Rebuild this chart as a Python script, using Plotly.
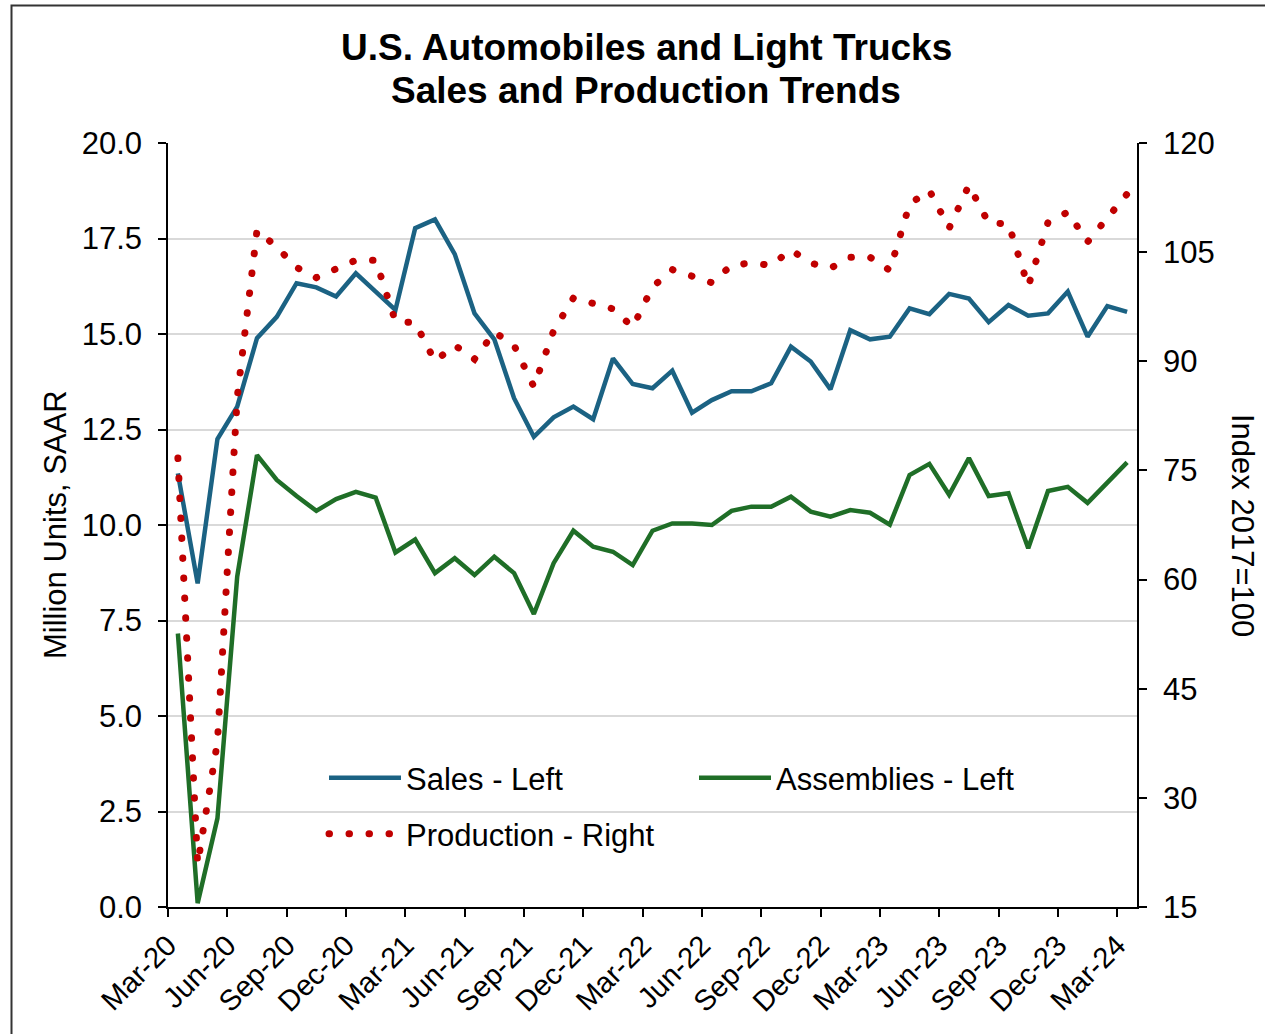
import plotly.graph_objects as go
import pandas as pd

# ---- data ----
months = list(pd.date_range("2020-03-01", periods=49, freq="MS").strftime("%b-%y"))

sales = [11.35, 8.47, 12.25, 13.10, 14.89, 15.45, 16.33, 16.22, 15.98, 16.59,
         16.11, 15.63, 17.77, 18.00, 17.09, 15.54, 14.86, 13.32, 12.31, 12.82, 13.10, 12.77,
         14.36, 13.69, 13.58, 14.04, 12.94, 13.27, 13.50, 13.50, 13.71, 14.67, 14.28, 13.55,
         15.10, 14.86, 14.93, 15.67, 15.52, 16.05, 15.93, 15.31, 15.76, 15.48, 15.54, 16.11,
         14.93, 15.73, 15.58]

assemblies = [7.16, 0.10, 2.32, 8.65, 11.83, 11.18, 10.76, 10.37, 10.68, 10.87,
              10.72, 9.28, 9.62, 8.74, 9.13, 8.69, 9.17, 8.74, 7.67, 9.00, 9.85, 9.43,
              9.30, 8.95, 9.85, 10.04, 10.04, 10.00, 10.37, 10.48, 10.48, 10.74, 10.35, 10.22,
              10.39, 10.32, 10.01, 11.31, 11.60, 10.79, 11.75, 10.76, 10.83, 9.39, 10.89, 11.00,
              10.58, 11.09, 11.64]

production = [76.7, 20.9, 37.7, 85.0, 108.0, 105.7, 102.9, 101.5, 102.7, 103.9,
              103.9, 95.5, 95.3, 90.0, 92.2, 90.3, 94.0, 92.2, 86.5, 94.2, 98.7, 97.9,
              97.2, 94.7, 100.2, 102.6, 101.8, 100.8, 103.2, 103.5, 103.2, 105.3, 103.5, 102.8,
              104.3, 104.3, 102.5, 111.6, 113.5, 108.3, 114.2, 109.0, 108.9, 100.3, 109.1, 110.5,
              106.4, 109.8, 113.0]

tick_labels = months[::3]

# ---- styling ----
FONT = "Liberation Sans, Arial, sans-serif"
BLUE = "#1b6283"
GREEN = "#1f6e27"
RED = "#c00000"

idx = list(range(len(months)))
tickvals = [i - 0.5 for i in range(0, len(months), 3)]

fig = go.Figure()
fig.add_trace(go.Scatter(x=idx, y=sales, name="Sales - Left", mode="lines",
                         line=dict(color=BLUE, width=4.5), legend="legend"))
fig.add_trace(go.Scatter(x=idx, y=assemblies, name="Assemblies - Left", mode="lines",
                         line=dict(color=GREEN, width=4.5), legend="legend2"))
fig.add_trace(go.Scatter(x=idx, y=production, name="Production - Right", mode="lines",
                         yaxis="y2", line=dict(color=RED, width=7, dash="0.5px,19.5px"),
                         legend="legend3"))

# body margin is removed in the page (see post script) -> figure at (0, 0)
W, H = 1265, 1034
# target plot area on screen: x 168..1137, y 143..907
PL, PR, PT, PB = 168, W - 1137, 143, H - 907
PW = W - PL - PR
PH = H - PT - PB

def px_x(x):  # screen px -> paper
    return (x - PL) / PW

def px_y(y):
    return (H - PB - y) / PH

axis_common = dict(showline=True, linecolor="black", linewidth=1.5,
                   ticks="outside", ticklen=8, tickwidth=1.5, tickcolor="black",
                   zeroline=False)

leg_common = dict(xanchor="left", yanchor="middle", bgcolor="rgba(0,0,0,0)",
                  font=dict(family=FONT, size=31, color="black"), itemwidth=72,
                  borderwidth=0)

fig.update_layout(
    width=W, height=H,
    margin=dict(l=PL, r=PR, t=PT, b=PB),
    paper_bgcolor="white", plot_bgcolor="white",
    font=dict(family=FONT, color="black"),
    showlegend=True,
    xaxis=dict(range=[-0.5, len(months) - 0.5], tickmode="array", tickvals=tickvals,
               ticktext=tick_labels, tickangle=-45, showgrid=False,
               tickfont=dict(family=FONT, size=29, color="black"), **axis_common),
    yaxis=dict(range=[0, 20], tick0=0, dtick=2.5, tickformat=".1f",
               showgrid=True, gridcolor="#d9d9d9", gridwidth=1.5,
               tickfont=dict(family=FONT, size=31, color="black"),
               ticklabelstandoff=10, **axis_common),
    yaxis2=dict(range=[15, 120], tick0=15, dtick=15, overlaying="y", side="right",
                showgrid=False, tickfont=dict(family=FONT, size=31, color="black"),
                ticklabelstandoff=10, **axis_common),
    legend=dict(x=px_x(324), y=px_y(778), **leg_common),
    legend2=dict(x=px_x(694), y=px_y(778), **leg_common),
    legend3=dict(x=px_x(324), y=px_y(834), **leg_common),
    annotations=[
        dict(text="<b>U.S. Automobiles and Light Trucks</b>", xref="paper", yref="paper",
             x=px_x(646), y=px_y(48), xanchor="center", yanchor="middle", showarrow=False,
             font=dict(family=FONT, size=37, color="black")),
        dict(text="<b>Sales and Production Trends</b>", xref="paper", yref="paper",
             x=px_x(646), y=px_y(91), xanchor="center", yanchor="middle", showarrow=False,
             font=dict(family=FONT, size=37, color="black")),
        dict(text="Million Units, SAAR", xref="paper", yref="paper",
             x=px_x(55), y=px_y(525), xanchor="center", yanchor="middle", showarrow=False,
             textangle=-90, font=dict(family=FONT, size=31, color="black")),
        dict(text="Index 2017=100", xref="paper", yref="paper",
             x=px_x(1243), y=px_y(525), xanchor="center", yanchor="middle", showarrow=False,
             textangle=90, font=dict(family=FONT, size=31, color="black")),
    ],
    shapes=[
        dict(type="rect", xref="paper", yref="paper", layer="below",
             x0=px_x(11.5), x1=px_x(1300), y0=px_y(1100), y1=px_y(5.5),
             line=dict(color="#333333", width=2), fillcolor="rgba(0,0,0,0)"),
    ],
)

post = """
document.body.style.margin = '0';
document.documentElement.style.margin = '0';
var gd = document.getElementById('{plot_id}');
function roundDots(){
  var paths = gd.querySelectorAll('path.js-line');
  paths.forEach(function(p){
    var d = p.style.strokeDasharray;
    if (d && d !== 'none' && d !== '') { p.style.strokeLinecap = 'round'; }
  });
}
roundDots();
if (gd && gd.on) { gd.on('plotly_afterplot', roundDots); }
setTimeout(roundDots, 50);
"""

fig.write_html("out.html", post_script=post, config={"displayModeBar": False})
